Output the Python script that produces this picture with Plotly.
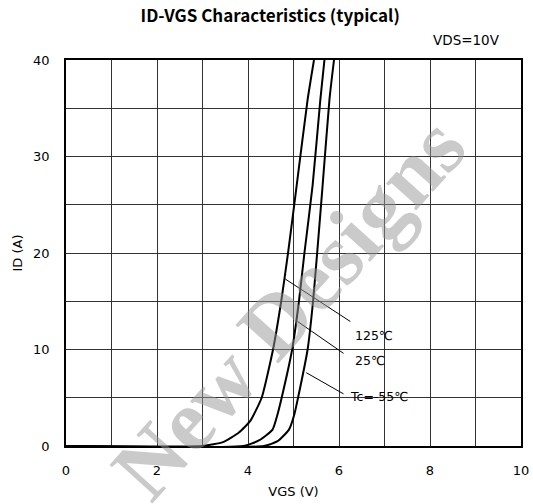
import plotly.graph_objects as go

# Data
vgs_125 = [0, 3.0, 3.45, 3.8, 4.05, 4.3, 4.55, 4.73, 4.88, 5.07, 5.31, 5.45]
id_125 = [0, 0, 0.4, 1.4, 2.6, 5, 10, 15, 20, 27, 35.9, 40]

vgs_25 = [0, 3.9, 4.25, 4.54, 4.65, 4.74, 4.97, 5.12, 5.24, 5.42, 5.59, 5.68]
id_25 = [0, 0, 0.6, 1.7, 3.3, 5, 10, 15, 20, 27, 35.9, 40]

vgs_m55 = [0, 4.35, 4.65, 4.9, 5.02, 5.1, 5.31, 5.43, 5.52, 5.64, 5.79, 5.89]
id_m55 = [0, 0, 0.5, 1.7, 3.3, 5, 10, 15, 20, 27, 35.9, 40]

labels = ["125℃", "25℃", "Tc=-55℃"]
leader_x0 = [4.82, 5.09, 5.28]
leader_y0 = [17.3, 12.9, 7.6]
leader_x1 = [6.25, 6.1, 6.1]
leader_y1 = [12.9, 9.6, 5.4]
label_x = [6.31, 6.31, 6.2]
label_y = [11.5, 8.9, 5.1]

x_ticks = [0, 2, 4, 6, 8, 10]
y_ticks = [0, 10, 20, 30, 40]

FONT = "DejaVu Sans"

fig = go.Figure()
for xs, ys in [(vgs_125, id_125), (vgs_25, id_25), (vgs_m55, id_m55)]:
    fig.add_trace(go.Scatter(x=xs, y=ys, mode="lines",
                             line=dict(color="black", width=2, shape="spline", smoothing=0.5),
                             showlegend=False, hoverinfo="skip", cliponaxis=True))

for i in range(len(labels)):
    fig.add_trace(go.Scatter(x=[leader_x0[i], leader_x1[i]], y=[leader_y0[i], leader_y1[i]],
                             mode="lines", line=dict(color="black", width=1),
                             showlegend=False, hoverinfo="skip"))
    fig.add_annotation(x=label_x[i], y=label_y[i], text=labels[i], showarrow=False,
                       xanchor="left", yanchor="middle",
                       font=dict(family=FONT, size=12.5, color="black"))

# Watermark
fig.add_annotation(xref="paper", yref="paper", x=0.49, y=0.36, text="<b>New Designs</b>",
                   showarrow=False, textangle=-48,
                   font=dict(family="Liberation Serif", size=88, color="rgba(150,150,150,0.5)"))

fig.update_layout(
    width=533, height=504,
    margin=dict(l=66, r=12, t=60, b=58, autoexpand=False),
    plot_bgcolor="white", paper_bgcolor="white",
    title=dict(text="<b>ID-VGS Characteristics (typical)</b>", x=0.507, xanchor="center",
               xref="container", y=0.969, yanchor="middle",
               font=dict(family="Noto Sans CJK JP", size=17, color="black")),
    font=dict(family=FONT, size=13, color="black"),
)
fig.add_annotation(xref="paper", yref="paper", x=0.958, y=1.025, text="VDS=10V",
                   showarrow=False, xanchor="right", yanchor="bottom",
                   font=dict(family=FONT, size=13.5, color="black"))

fig.update_xaxes(range=[0, 10], tickvals=x_ticks, ticks="", showgrid=True,
                 gridcolor="#333333", gridwidth=1,
                 minor=dict(dtick=1, showgrid=True, gridcolor="#333333", gridwidth=1),
                 showline=True, linecolor="black", linewidth=1.5, mirror=True,
                 zeroline=False, automargin=False, ticklabelstandoff=12,
                 title=dict(text="VGS (V)", standoff=10, font=dict(size=13)),
                 tickfont=dict(size=13))
fig.update_yaxes(range=[0, 40], tickvals=y_ticks, ticks="", showgrid=True,
                 gridcolor="#333333", gridwidth=1,
                 minor=dict(dtick=5, showgrid=True, gridcolor="#333333", gridwidth=1),
                 showline=True, linecolor="black", linewidth=1.5, mirror=True,
                 zeroline=False, automargin=False, ticklabelstandoff=12,
                 title=dict(text="ID (A)", standoff=8, font=dict(size=13)),
                 tickfont=dict(size=13))

# Remove the default page margin so the 533x504 figure fills the window
fig.write_html("out.html", config={"displayModeBar": False},
               post_script="document.body.style.margin='0';")
